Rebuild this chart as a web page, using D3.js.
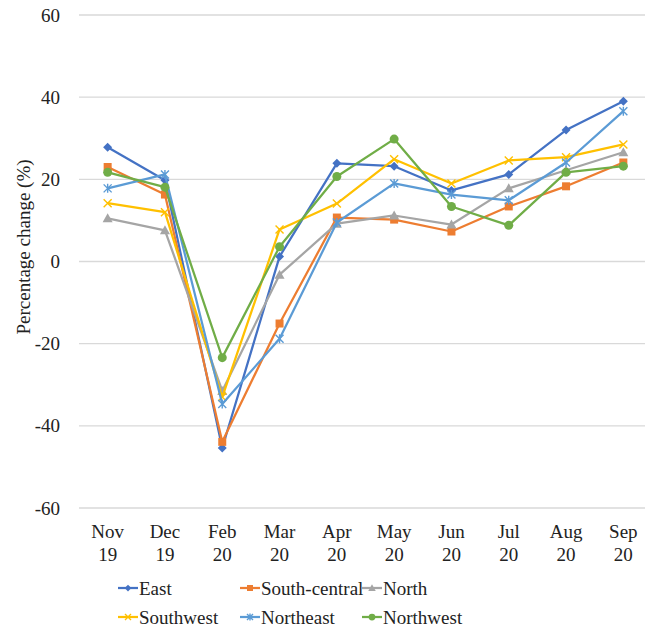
<!DOCTYPE html>
<html><head><meta charset="utf-8">
<script src="https://cdn.jsdelivr.net/npm/d3@7"></script>
<style>body{margin:0;background:#fff}svg{display:block}</style>
</head><body><svg id="c" width="652" height="632" font-family="'Liberation Serif', 'Times New Roman', 'DejaVu Serif', serif"></svg>
<script>
const categories = [["Nov","19"],["Dec","19"],["Feb","20"],["Mar","20"],["Apr","20"],["May","20"],["Jun","20"],["Jul","20"],["Aug","20"],["Sep","20"]];
const yTicks = [-60,-40,-20,0,20,40,60];
const seriesNames = ["East","South-central","North","Southwest","Northeast","Northwest"];
const seriesColors = ["#4472C4","#ED7D31","#A5A5A5","#FFC000","#5B9BD5","#70AD47"];
const seriesMarkers = ["diamond","square","triangle","x","asterisk","circle"];
const east = [27.8,19.8,-45.4,1.2,23.9,23.2,17.3,21.2,32.0,39.0];
const southCentral = [23.0,16.3,-43.9,-15.1,10.7,10.2,7.3,13.4,18.3,24.1];
const north = [10.5,7.6,-31.5,-3.2,9.2,11.2,9.0,17.8,22.2,26.6];
const southwest = [14.2,12.0,-33.0,7.8,14.1,24.9,19.0,24.6,25.4,28.5];
const northeast = [17.8,21.2,-34.7,-18.8,9.5,19.0,16.3,14.9,24.1,36.6];
const northwest = [21.7,18.1,-23.4,3.6,20.7,29.8,13.4,8.8,21.7,23.2];
const seriesValues = [east,southCentral,north,southwest,northeast,northwest];

(function(){
const FONT = "'Liberation Serif', 'Times New Roman', 'DejaVu Serif', serif";
const TXT = "#222";
const svg = d3.select("#c");
const pL = 79, pR = 652, pT = 15, pB = 508;
const x = d3.scaleBand().domain(categories.map((d,i)=>i)).range([pL,pR]);
const y = d3.scaleLinear().domain([-60,60]).range([pB,pT]);
const cx = i => x(i) + x.bandwidth()/2;

svg.append("g").selectAll("line").data(yTicks).join("line")
  .attr("x1",pL).attr("x2",645).attr("y1",d=>y(d)).attr("y2",d=>y(d))
  .attr("stroke","#d9d9d9").attr("stroke-width",1.3);

svg.append("g").selectAll("text").data(yTicks).join("text")
  .attr("x",60).attr("y",d=>y(d)).attr("dy","0.35em").attr("text-anchor","end")
  .attr("font-family",FONT).attr("fill",TXT).attr("font-size",19).text(d=>d);

svg.append("text").attr("transform","translate(23,247) rotate(-90)")
  .attr("text-anchor","middle").attr("dy","0.35em").attr("font-family",FONT).attr("fill",TXT)
  .attr("font-size",19).text("Percentage change (%)");

const xl = svg.append("g").selectAll("text").data(categories).join("text")
  .attr("text-anchor","middle").attr("font-size",19).attr("font-family",FONT).attr("fill",TXT);
xl.append("tspan").attr("x",(d,i)=>cx(i)).attr("y",538).text(d=>d[0]);
xl.append("tspan").attr("x",(d,i)=>cx(i)).attr("y",561).text(d=>d[1]);

function marker(g, type, color, px, py, s){
  s = s||1;
  if(type==="diamond"){
    g.append("path").attr("d",`M${px},${py-4.5*s}L${px+4.5*s},${py}L${px},${py+4.5*s}L${px-4.5*s},${py}Z`).attr("fill",color);
  } else if(type==="square"){
    g.append("rect").attr("x",px-4*s).attr("y",py-4*s).attr("width",8*s).attr("height",8*s).attr("fill",color);
  } else if(type==="triangle"){
    g.append("path").attr("d",`M${px},${py-5*s}L${px+5*s},${py+4*s}L${px-5*s},${py+4*s}Z`).attr("fill",color);
  } else if(type==="circle"){
    g.append("circle").attr("cx",px).attr("cy",py).attr("r",4.5*s).attr("fill",color);
  } else if(type==="x"){
    const r=4*s;
    g.append("path").attr("d",`M${px-r},${py-r}L${px+r},${py+r}M${px-r},${py+r}L${px+r},${py-r}`).attr("stroke",color).attr("stroke-width",1.4).attr("fill","none");
  } else if(type==="asterisk"){
    const r=4*s;
    g.append("path").attr("d",`M${px-r},${py-r}L${px+r},${py+r}M${px-r},${py+r}L${px+r},${py-r}M${px},${py-r-0.5}L${px},${py+r+0.5}`).attr("stroke",color).attr("stroke-width",1.4).attr("fill","none");
  }
}

const line = d3.line().x((d,i)=>cx(i)).y(d=>y(d));
seriesValues.forEach((vals,k)=>{
  const g = svg.append("g");
  g.append("path").datum(vals).attr("d",line).attr("fill","none")
    .attr("stroke",seriesColors[k]).attr("stroke-width",2.25).attr("stroke-linejoin","round");
  vals.forEach((v,i)=>marker(g,seriesMarkers[k],seriesColors[k],cx(i),y(v)));
});

const legX = [118,240,362], legY = [588,617];
seriesNames.forEach((n,k)=>{
  const lx = legX[k%3], ly = legY[Math.floor(k/3)];
  const g = svg.append("g");
  g.append("line").attr("x1",lx).attr("x2",lx+20).attr("y1",ly).attr("y2",ly)
    .attr("stroke",seriesColors[k]).attr("stroke-width",2.25);
  marker(g,seriesMarkers[k],seriesColors[k],lx+10,ly,0.75);
  g.append("text").attr("x",lx+21).attr("y",ly).attr("dy","0.35em").attr("font-size",19)
    .attr("font-family",FONT).attr("fill",TXT).text(n);
});
})();
</script></body></html>
